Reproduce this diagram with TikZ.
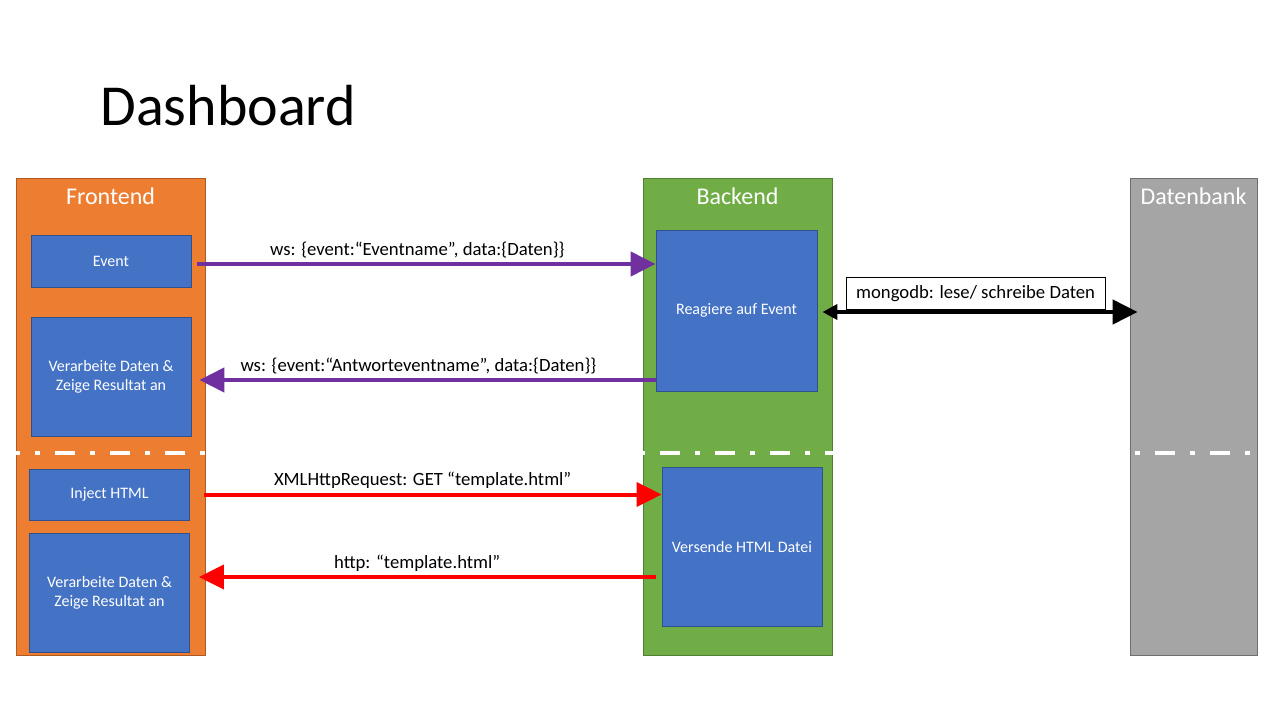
\documentclass[tikz,border=0pt]{standalone}
\usepackage{fontspec}
\setmainfont{Carlito}
\usetikzlibrary{arrows.meta}
\definecolor{feorange}{HTML}{ED7D31}
\definecolor{feborder}{HTML}{AE5A21}
\definecolor{begreen}{HTML}{70AD47}
\definecolor{beborder}{HTML}{507E32}
\definecolor{dbgrey}{HTML}{A5A5A5}
\definecolor{dbborder}{HTML}{6E6E6E}
\definecolor{boxblue}{HTML}{4472C4}
\definecolor{boxborder}{HTML}{2F528F}
\definecolor{wspurple}{HTML}{7030A0}
\definecolor{httpred}{HTML}{FF0000}
\begin{document}
\begin{tikzpicture}[x=1pt,y=-1pt,
    col/.style={draw, line width=0.8pt, inner sep=0pt, minimum height=477pt},
    coltitle/.style={anchor=base, text=white, font=\fontsize{24}{28}\selectfont},
    box/.style={draw=boxborder, fill=boxblue, line width=0.8pt, text=white, align=center,
        inner sep=0pt, minimum width=160pt, font=\fontsize{16}{19}\selectfont},
    msg/.style={line width=4.5pt, -{Triangle[length=25pt,width=24pt]}},
    msglabel/.style={anchor=base, yshift=9pt, font=\fontsize{18.7}{22}\selectfont}]
    \useasboundingbox (0,0) rectangle (1280,720);

    % Title
    \node[anchor=base west, font=\fontsize{58}{68}\selectfont] (title) at (97,125) {Dashboard};

    % Columns
    \node[col, fill=feorange, draw=feborder, minimum width=189pt] (fe) at (110.5,416.5) {};
    \node[col, fill=begreen, draw=beborder, minimum width=189pt] (be) at (737.5,416.5) {};
    \node[col, fill=dbgrey, draw=dbborder, minimum width=127pt] (db) at (1193.5,416.5) {};
    \node[coltitle] (fetitle) at (110.5,204) {Frontend};
    \node[coltitle] (betitle) at (737.5,204) {Backend};
    \node[coltitle] (dbtitle) at (1193.5,204) {Datenbank};

    % Separator
    \coordinate (sep) at (0,453);
    \draw[white, line width=4pt, dash pattern=on 20pt off 15pt on 5pt off 15pt, dash phase=16pt]
        (fe.west |- sep) -- (db.east |- sep);

    % Boxes
    \node[box, minimum height=52pt] (event) at (111,261) {Event};
    \node[box, minimum height=119pt] (res1) at (111,376.5) {Verarbeite Daten \&\\Zeige Resultat an};
    \node[box, minimum width=161pt, minimum height=161pt] (react) at (736.5,310.5) {Reagiere auf Event};
    \node[box, minimum height=51pt] (inject) at (109.5,494.5) {Inject HTML};
    \node[box, minimum height=119pt] (res2) at (109.5,592.5) {Verarbeite Daten \&\\Zeige Resultat an};
    \node[box, minimum height=159pt] (send) at (742,546.5) {Versende HTML Datei};

    % Websocket
    \coordinate (a1) at ([xshift=6pt,yshift=-3pt]event.east);
    \draw[msg, wspurple] (a1) -- (a1 -| react.west)
        node[msglabel, text=black, pos=0.48] {ws: \{event:“Eventname”, data:\{Daten\}\}};
    \coordinate (a2) at ([xshift=8pt,yshift=-3.5pt]res1.east);
    \draw[msg, wspurple] (a2 -| react.west) -- (a2)
        node[msglabel, text=black, pos=0.52] {ws: \{event:“Antworteventname”, data:\{Daten\}\}};

    % HTTP
    \coordinate (a3) at ([xshift=14pt]inject.east);
    \draw[msg, httpred, line width=4pt] (a3) -- (a3 -| send.west)
        node[msglabel, text=black, pos=0.478] {XMLHttpRequest: GET “template.html”};
    \coordinate (a4) at ([xshift=9pt,yshift=15.5pt]res2.east);
    \draw[msg, httpred, line width=4pt] ([xshift=-6pt]a4 -| send.west) -- (a4)
        node[msglabel, text=black, pos=0.522] {http: “template.html”};

    % Database
    \coordinate (a5) at ([xshift=5pt,yshift=-1.5pt]react.east);
    \draw[line width=4.5pt, {Triangle[length=15pt,width=15pt]}-{Triangle[length=25pt,width=24pt]}]
        (a5) -- ([xshift=8pt]a5 -| db.west)
        node[pos=0.486, anchor=south, yshift=2pt, draw, fill=white, line width=0.8pt,
            minimum width=259pt, minimum height=32pt, inner sep=0pt,
            font=\fontsize{18.7}{22}\selectfont] (dblabel) {mongodb: lese/ schreibe Daten};
\end{tikzpicture}
\end{document}
